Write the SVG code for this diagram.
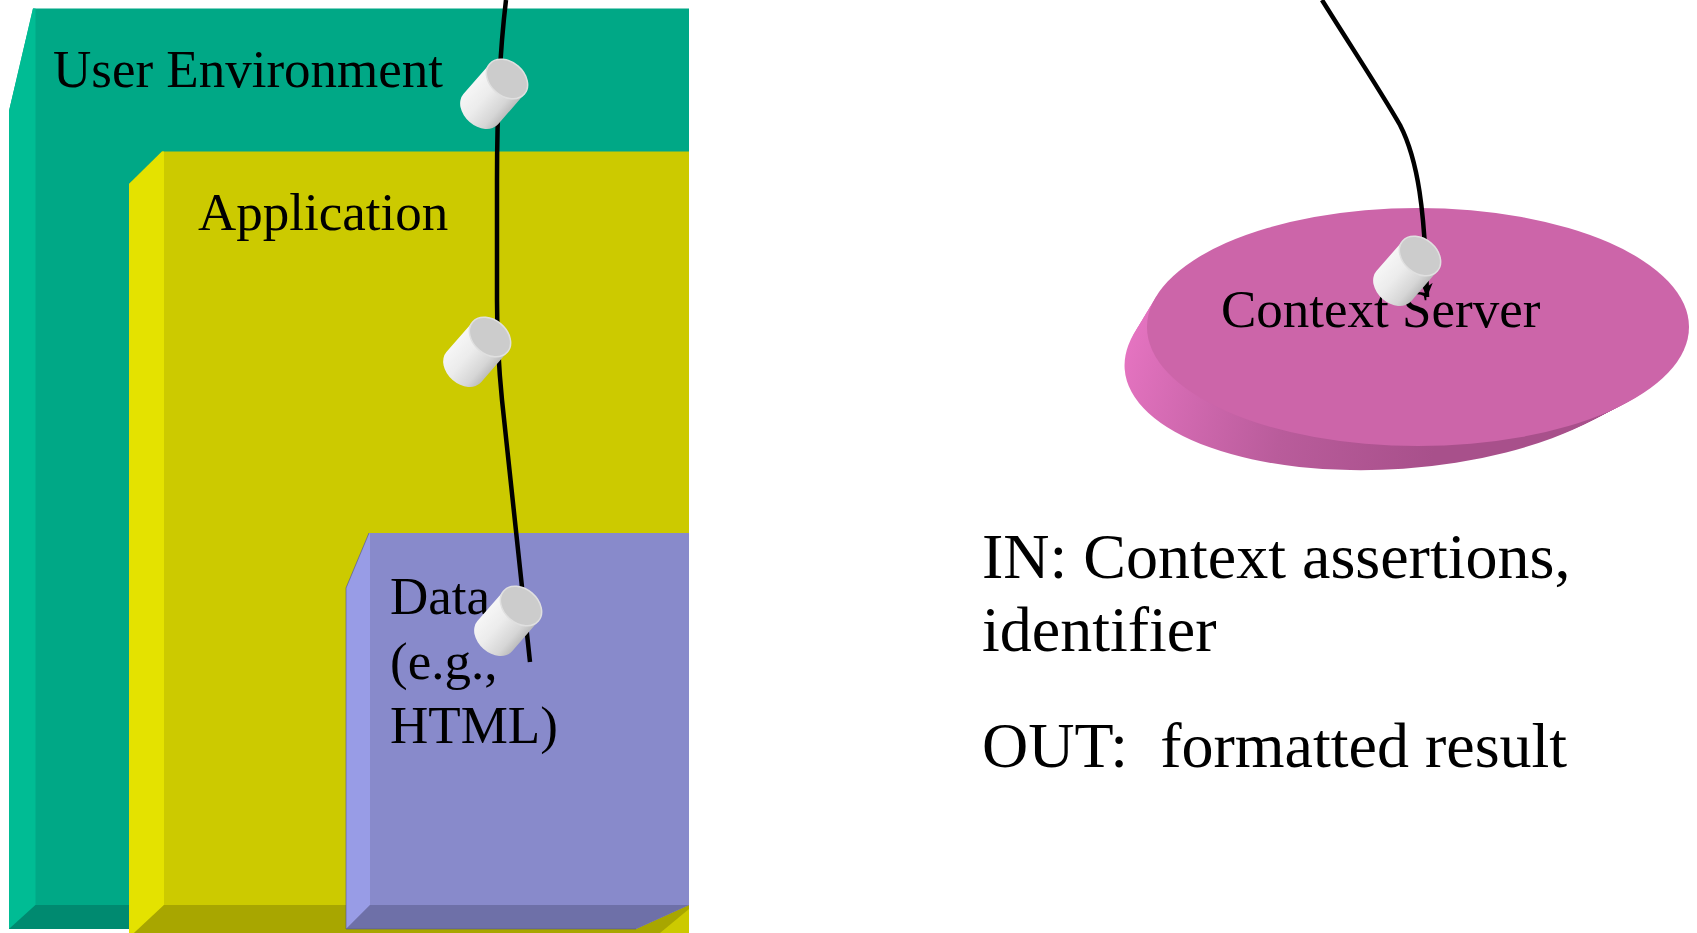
<svg xmlns="http://www.w3.org/2000/svg" xmlns:xlink="http://www.w3.org/1999/xlink" width="1697" height="933" viewBox="0 0 1697 933">
<style>
.lbl { font-family: "Liberation Serif", "Times New Roman", serif; font-size: 53px; fill: #000; }
.big { font-size: 64px; }
.wire { fill: none; stroke: #000; stroke-width: 4.5; stroke-linecap: butt; }
.side { fill: url(#discSide); }
</style>
<defs>
<linearGradient id="plugBody" gradientUnits="userSpaceOnUse" x1="0" y1="-23" x2="0" y2="23">
<stop offset="0" stop-color="#F6F6F6"/>
<stop offset="0.4" stop-color="#ECECEC"/>
<stop offset="0.8" stop-color="#D6D6D6"/>
<stop offset="1" stop-color="#BDBDBD"/>
</linearGradient>
<linearGradient id="discSide" gradientUnits="userSpaceOnUse" x1="1130" y1="330" x2="1420" y2="475">
<stop offset="0" stop-color="#E473C0"/>
<stop offset="0.55" stop-color="#B95C9B"/>
<stop offset="1" stop-color="#A8508B"/>
</linearGradient>
<g id="plug">
<path d="M0,-23 L-40,-23 A17 23 0 0 0 -40,23 L0,23 Z" fill="url(#plugBody)"/>
<ellipse cx="0" cy="0" rx="17" ry="23" fill="#CCCCCC" stroke="#E0E0E0" stroke-width="1.5"/>
</g>
<marker id="arrow" markerUnits="userSpaceOnUse" markerWidth="16" markerHeight="12" refX="14" refY="6" orient="auto">
<path d="M0,0 L14,6 L0,12 L4,6 Z" fill="#000"/>
</marker>
</defs>
<rect x="0" y="0" width="1697" height="933" fill="#FFFFFF"/>

<g id="user-environment">
<polygon points="33,8.5 689,8.5 689,929 9,929 9,111" fill="#00A886"/>
<polygon points="35.5,8.5 33,8.5 9,111 9,929 35.5,905" fill="#00BC94"/>
<polygon points="35.5,905 689,905 689,929 9,929" fill="#008A70"/>
<text class="lbl" x="53" y="87">User Environment</text>
</g>

<g id="application">
<polygon points="162,151.5 689,151.5 689,933 129,933 129,184" fill="#CCCA00"/>
<polygon points="164,151.5 162,151.5 129,184 129,933 134,933 164,905" fill="#E4E200"/>
<polygon points="164,905 689,905 689,909 660,933 134,933" fill="#A8A600"/>
<text class="lbl" x="198" y="230">Application</text>
</g>

<g id="data">
<polygon points="369,533 689,533 689,905 636,929 346,929 346,588" fill="#888ACB"/>
<polygon points="370,533 369,533 346,588 346,929 370,905" fill="#989CE6"/>
<polygon points="370,905 689,905 636,929 346,929" fill="#6E70A8"/>
<polyline points="369,533 346,588 346,929 636,929" fill="none" stroke="#55577a" stroke-width="1" stroke-opacity="0.6"/>
<text class="lbl" x="390" y="614">Data</text>
<text class="lbl" x="390" y="679">(e.g.,</text>
<text class="lbl" x="390" y="743">HTML)</text>
</g>

<g id="context-server">
<ellipse class="side" cx="1395" cy="350" rx="271" ry="119" transform="rotate(-4 1395 350)"/>
<ellipse class="side" cx="1398" cy="347" rx="271" ry="119" transform="rotate(-3.5 1398 347)"/>
<ellipse class="side" cx="1401" cy="344" rx="271" ry="119" transform="rotate(-3 1401 344)"/>
<ellipse class="side" cx="1404" cy="341" rx="271" ry="119" transform="rotate(-2.5 1404 341)"/>
<ellipse class="side" cx="1407" cy="338" rx="271" ry="119" transform="rotate(-2 1407 338)"/>
<ellipse class="side" cx="1410" cy="335" rx="271" ry="119" transform="rotate(-1.5 1410 335)"/>
<ellipse class="side" cx="1413" cy="332" rx="271" ry="119" transform="rotate(-1 1413 332)"/>
<ellipse class="side" cx="1416" cy="329" rx="271" ry="119" transform="rotate(-0.5 1416 329)"/>
<ellipse cx="1418" cy="327" rx="271" ry="119" fill="#CC65A9"/>
<text class="lbl" x="1221" y="327">Context Server</text>
</g>

<g id="in-out">
<text class="lbl big" x="982" y="578">IN: Context assertions,</text>
<text class="lbl big" x="982" y="651">identifier</text>
<text class="lbl big" x="982" y="767" xml:space="preserve">OUT:  formatted result</text>
</g>

<g id="connectors">
<path class="wire" d="M506,0 C500,50 497,100 497,180 L497,300 C497,340 499,370 502,400 L530,662"/>
<path class="wire" d="M1322,0 C1350,45 1380,90 1400,125 C1418,160 1425,210 1427,297" marker-end="url(#arrow)"/>
<g id="plugs">
<use xlink:href="#plug" transform="translate(507,79) rotate(-49)"/>
<use xlink:href="#plug" transform="translate(490,337) rotate(-49)"/>
<use xlink:href="#plug" transform="translate(521,606) rotate(-49)"/>
<use xlink:href="#plug" transform="translate(1420,256) rotate(-49)"/>
</g>
</g>
</svg>
